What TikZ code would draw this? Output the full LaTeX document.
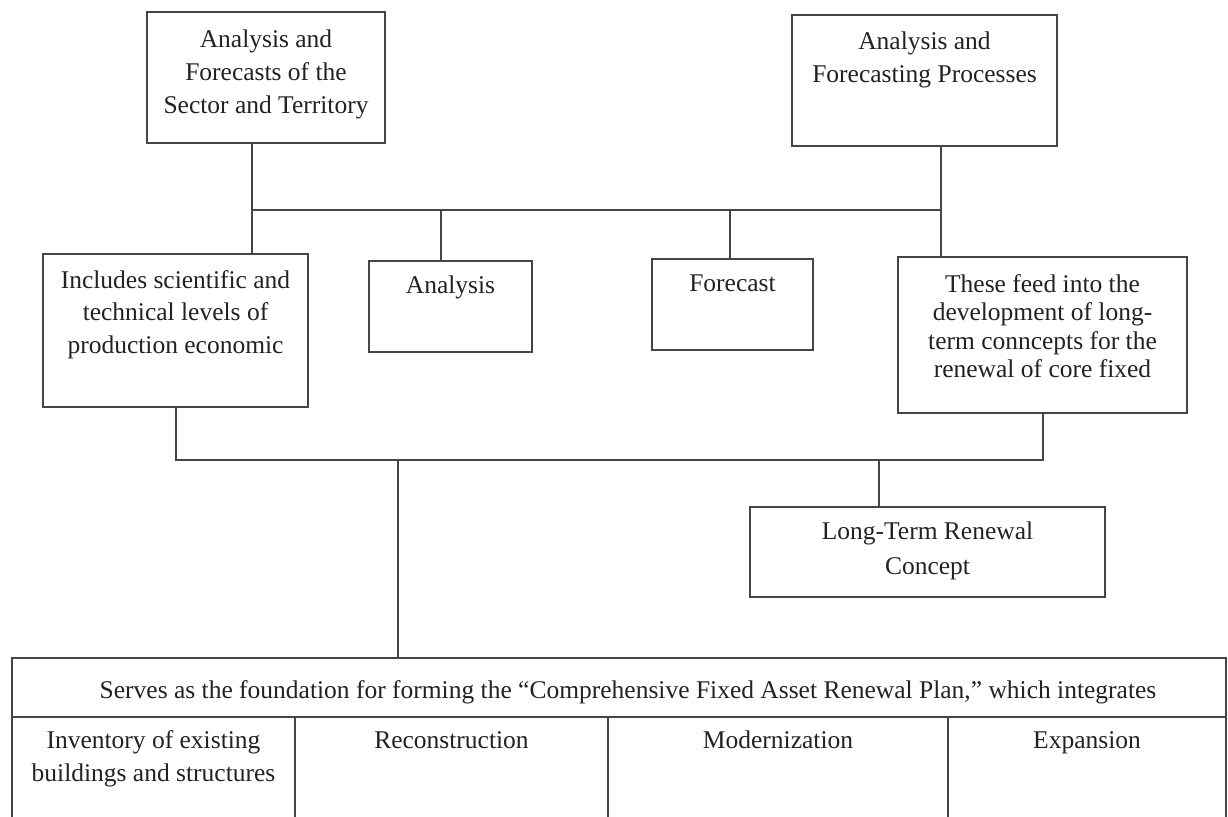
\documentclass[tikz,border=0pt]{standalone}
\usepackage{fontspec}
\setmainfont{Liberation Serif}
\definecolor{linec}{HTML}{454545}
\definecolor{textc}{HTML}{222222}
% #1 width, #2 height, #3 baselineskip, #4 first-baseline offset, #5 text
\newcommand{\bx}[5]{\parbox[t][#2][t]{#1}{\fontsize{25.5}{#3}\selectfont\centering\rule{0pt}{#4}#5\par}}
\tikzset{
  boxn/.style={draw=linec, line width=2pt, inner sep=0pt, outer sep=0pt, anchor=north west, text=textc},
  conn/.style={draw=linec, line width=2pt}
}
\begin{document}
\begin{tikzpicture}[x=1pt,y=-1pt]
\useasboundingbox[fill=white] (0,0) rectangle (1228,816);
% boxes
\node[boxn] (tl) at (147,12) {\bx{238pt}{131pt}{33pt}{36pt}{Analysis and\\Forecasts of the\\Sector and Territory}};
\node[boxn] (tr) at (792,15) {\bx{265pt}{131pt}{33pt}{34pt}{Analysis and\\Forecasting Processes}};
\node[boxn] (inc) at (43,254) {\bx{265pt}{153pt}{32.5pt}{34pt}{Includes scientific and\\technical levels of\\production economic}};
\node[boxn] (ana) at (369,261) {\bx{163pt}{91pt}{33pt}{32pt}{Analysis}};
\node[boxn] (fc) at (652,259) {\bx{161pt}{91pt}{33pt}{32pt}{Forecast}};
\node[boxn] (feed) at (898,257) {\bx{289pt}{156pt}{28.5pt}{35pt}{These feed into the\\development of long-\\term conncepts for the\\renewal of core fixed}};
\node[boxn] (lt) at (750,507) {\bx{355pt}{90pt}{35pt}{32pt}{Long-Term Renewal\\Concept}};
% table
\node[boxn] (plan) at (12,658) {\bx{1214pt}{59pt}{33pt}{40pt}{\hspace*{18pt}Serves as the foundation for forming the “Comprehensive Fixed Asset Renewal Plan,” which integrates}};
\node[boxn] (c1) at (12,717) {\bx{283pt}{113pt}{33pt}{31pt}{Inventory of existing\\buildings and structures}};
\node[boxn] (c2) at (295,717) {\bx{313pt}{113pt}{33pt}{31pt}{Reconstruction}};
\node[boxn] (c3) at (608,717) {\bx{340pt}{113pt}{33pt}{31pt}{Modernization}};
\node[boxn] (c4) at (948,717) {\bx{278pt}{113pt}{33pt}{31pt}{Expansion}};
% junction coordinates
\coordinate (j1) at (252,210);
\coordinate (j2) at (941,210);
\coordinate (ja) at (441,210);
\coordinate (jf) at (730,210);
\coordinate (b2) at (176,460);
\coordinate (j3) at (879,460);
\coordinate (j4) at (398,460);
% connectors
\draw[conn] (tl.south -| j1) -- (inc.north -| j1);
\draw[conn] (tr.south -| j2) -- (feed.north -| j2);
\draw[conn] (j1) -- (j2);
\draw[conn] (ja) -- (ana.north -| ja);
\draw[conn] (jf) -- (fc.north -| jf);
\draw[conn] (inc.south) -- (inc.south |- b2) -- (feed.south |- b2) -- (feed.south);
\draw[conn] (j3) -- (lt.north -| j3);
\draw[conn] (j4) -- (plan.north -| j4);
\end{tikzpicture}
\end{document}
